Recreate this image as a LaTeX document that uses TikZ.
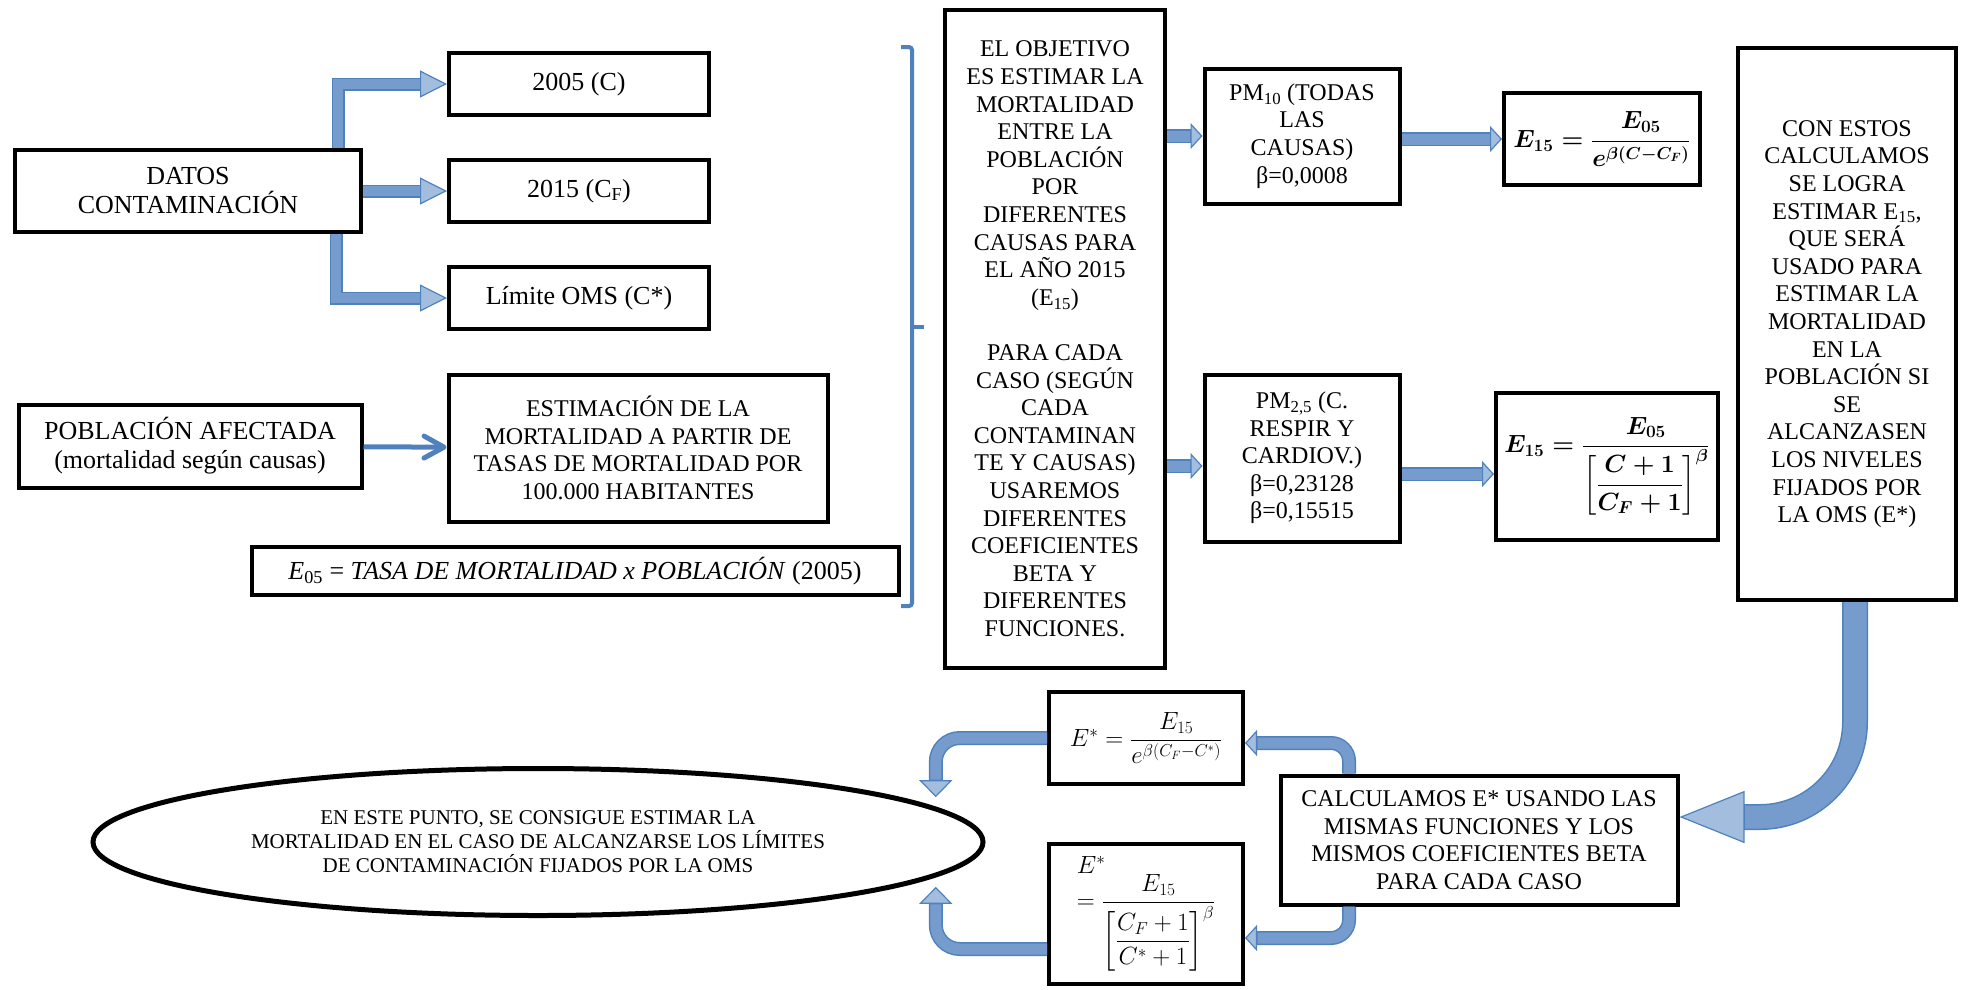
\documentclass[tikz,border=0pt]{standalone}
\usepackage{amsmath}
\usepackage{fontspec}
\setmainfont{Liberation Serif}
\usetikzlibrary{shapes,arrows,arrows.meta}

\definecolor{arrowblue}{RGB}{79,129,189}
\definecolor{shaftblue}{RGB}{118,156,206}
\definecolor{headblue}{RGB}{163,189,223}

\newcommand{\bigtxt}{\fontsize{26}{29}\selectfont}
\newcommand{\midtxt}{\fontsize{24}{27.6}\selectfont}
\newcommand{\smalltxt}{\fontsize{21}{24}\selectfont}

\tikzstyle{block} = [rectangle, draw, line width=4pt, align=center,
    inner sep=1pt, font=\midtxt]
\tikzstyle{line} = [draw=arrowblue, line width=13pt,
    -{Triangle[length=27pt,width=27pt,fill=headblue,line width=1.2pt]},
    postaction={draw=shaftblue, line width=10pt, arrows=-, shorten >=27.5pt}]
\tikzstyle{smallline} = [draw=arrowblue, line width=14pt,
    -{Triangle[length=12pt,width=26pt,fill=headblue,line width=1.2pt]},
    postaction={draw=shaftblue, line width=11pt, arrows=-, shorten >=12.5pt}]
\tikzstyle{thinline} = [draw=arrowblue, line width=5pt,
    -{Straight Barb[length=20pt,width=22pt,round]}]
\tikzstyle{uturn} = [draw=arrowblue, line width=14pt, rounded corners=18pt,
    -{Triangle[length=12pt,width=26pt,fill=headblue,line width=1.2pt]},
    postaction={draw=shaftblue, line width=11pt, arrows=-, shorten >=12.5pt}]
\tikzstyle{uturnbig} = [draw=arrowblue, line width=14pt, rounded corners=24pt,
    -{Triangle[length=17pt,width=33pt,fill=headblue,line width=1.2pt]},
    postaction={draw=shaftblue, line width=11pt, arrows=-, shorten >=17.5pt}]
\tikzstyle{bigturn} = [draw=arrowblue, line width=26pt, rounded corners=95pt,
    -{Triangle[length=65pt,width=52pt,fill=headblue,line width=1.2pt]},
    postaction={draw=shaftblue, line width=23pt, arrows=-, shorten >=65.5pt}]

\begin{document}
\begin{tikzpicture}[x=1pt, y=-1pt, node distance=107pt]
		\useasboundingbox (0,0) rectangle (1964,989);
		% datos de partida
		\node [block, font=\bigtxt, minimum width=346pt, minimum height=82pt] (datos) at (188,191) {DATOS\\CONTAMINACIÓN};
		\node [block, font=\bigtxt, minimum width=260pt, minimum height=62pt] (c2005) at (579,84) {2005 (C)};
		\node [block, font=\bigtxt, minimum width=260pt, minimum height=62pt, below of=c2005] (c2015) {2015 (C\textsubscript{F})};
		\node [block, font=\bigtxt, minimum width=260pt, minimum height=62pt, below of=c2015] (limite) {Límite OMS (C*)};
		\node [block, font=\bigtxt, minimum width=343pt, minimum height=83pt] (poblacion) at (190,446) {POBLACIÓN AFECTADA\\(mortalidad según causas)};
		\node [block, minimum width=379pt, minimum height=147pt] (estimacion) at (638,448) {ESTIMACIÓN DE LA\\MORTALIDAD A PARTIR DE\\TASAS DE MORTALIDAD POR\\100.000 HABITANTES};
		\node [block, font=\bigtxt, minimum width=647pt, minimum height=48pt] (e05) at (575,571) {\textit{E}\textsubscript{05} = \textit{TASA DE MORTALIDAD x POBLACIÓN} (2005)};
		% llave
		\draw [arrowblue, line width=4pt, rounded corners=3pt] (901,47) -- (912,47) -- (912,606) -- (901,606);
		\draw [arrowblue, line width=4pt] (912,327) -- (924,327);
		% objetivo y coeficientes
		\node [block, minimum width=220pt, minimum height=658pt] (objetivo) at (1055,339) {EL OBJETIVO\\ES ESTIMAR LA\\MORTALIDAD\\ENTRE LA\\POBLACIÓN\\POR\\DIFERENTES\\CAUSAS PARA\\EL AÑO 2015\\(E\textsubscript{15})\\[27.6pt]PARA CADA\\CASO (SEGÚN\\CADA\\CONTAMINAN\\TE Y CAUSAS)\\USAREMOS\\DIFERENTES\\COEFICIENTES\\BETA Y\\DIFERENTES\\FUNCIONES.};
		\node [block, minimum width=195pt, minimum height=135pt] (pm10) at (1302,136) {PM\textsubscript{10} (TODAS\\LAS\\CAUSAS)\\β=0,0008};
		\node [block, minimum width=195pt, minimum height=167pt] (pm25) at (1302,458) {PM\textsubscript{2,5} (C.\\RESPIR Y\\CARDIOV.)\\β=0,23128\\β=0,15515};
		\node [block, font={\midtxt\boldmath}, minimum width=196pt, minimum height=92pt] (e15a) at (1602,139) {$E_{15} = \dfrac{E_{05}}{e^{\beta(C-C_F)}}$};
		\node [block, font={\midtxt\boldmath}, minimum width=222pt, minimum height=147pt] (e15b) at (1607,466) {$E_{15} = \dfrac{E_{05}}{\left[\dfrac{C+1}{C_F+1}\right]^{\beta}}$};
		\node [block, minimum width=218pt, minimum height=552pt] (conestos) at (1847,324) {CON ESTOS\\CALCULAMOS\\SE LOGRA\\ESTIMAR E\textsubscript{15},\\QUE SERÁ\\USADO PARA\\ESTIMAR LA\\MORTALIDAD\\EN LA\\POBLACIÓN SI\\SE\\ALCANZASEN\\LOS NIVELES\\FIJADOS POR\\LA OMS (E*)};
		% calculo de E*
		\node [block, minimum width=397pt, minimum height=129pt] (calc) at (1479,840) {CALCULAMOS E* USANDO LAS\\MISMAS FUNCIONES Y LOS\\MISMOS COEFICIENTES BETA\\PARA CADA CASO};
		\node [block, minimum width=194pt, minimum height=92pt] (estar1) at (1146,738) {$E^* = \dfrac{E_{15}}{e^{\beta(C_F-C^*)}}$};
		\node [block, align=left, minimum width=194pt, minimum height=140pt] (estar2) at (1146,914) {$E^*$\\$\displaystyle = \frac{E_{15}}{\left[\dfrac{C_F+1}{C^*+1}\right]^{\beta}}$};
		\node [ellipse, draw, line width=5pt, minimum width=890pt, minimum height=147pt, align=center, inner sep=0pt, font=\smalltxt] (ell) at (538,842) {EN ESTE PUNTO, SE CONSIGUE ESTIMAR LA\\MORTALIDAD EN EL CASO DE ALCANZARSE LOS LÍMITES\\DE CONTAMINACIÓN FIJADOS POR LA OMS};

		\coordinate (p25in) at ([yshift=-8pt]pm25.west);
		\coordinate (p25out) at ([yshift=-8pt]e15b.west);

		\path [line] ([xshift=-25pt]datos.north east) |- (c2005.west);
		\path [line] (datos.east) -- (c2015.west);
		\path [line] ([xshift=-27pt]datos.south east) |- (limite.west);
		\path [thinline] (poblacion) -- (estimacion);
		\path [smallline] (pm10.west -| objetivo.east) -- (pm10.west);
		\path [smallline] (objetivo.east |- p25in) -- (p25in);
		\path [smallline] (e15a.west -| pm10.east) -- (e15a.west);
		\path [smallline] (pm25.east |- p25out) -- (p25out);
		\path [bigturn] ([xshift=8pt]conestos.south) |- ([yshift=23pt]calc.east);
		\path [uturn] ([xshift=-130pt]calc.north) |- ([yshift=-5pt]estar1.east);
		\path [uturn] ([xshift=-130pt]calc.south) |- ([yshift=-24pt]estar2.east);
		\path [uturnbig] (estar1.west) -| ([yshift=10pt]ell.5);
		\path [uturnbig] ([yshift=-35pt]estar2.west) -| ([yshift=-10pt]ell.-5);
	\end{tikzpicture}
\end{document}
